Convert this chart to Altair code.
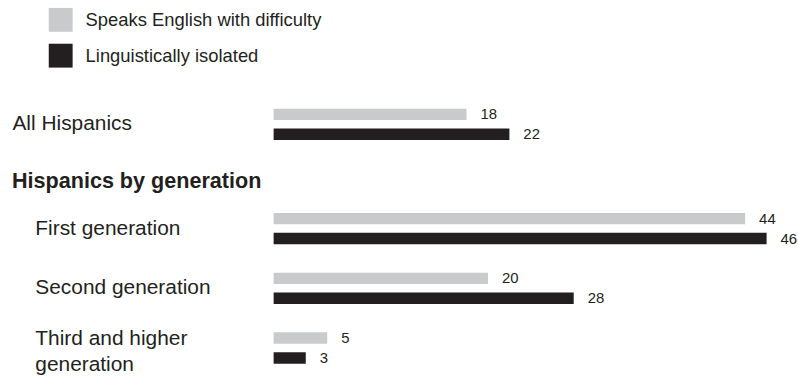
import altair as alt
import pandas as pd

# Series (legend order, top bar first within each group)
series = ["Speaks English with difficulty", "Linguistically isolated"]
series_colors = ["#c9cacc", "#231f20"]

# Overall row
overall_groups = ["All Hispanics"]
overall_difficulty = [18]
overall_isolated = [22]

# By-generation rows
section_title = "Hispanics by generation"
generations = ["First generation", "Second generation", "Third and higher generation"]
gen_difficulty = [44, 20, 5]
gen_isolated = [46, 28, 3]

FONT = "Liberation Sans"
INK = "#231f20"
PLOT_W = 517
WRAP_AT = 18  # labels longer than this break onto two lines


def long_table(groups, difficulty, isolated):
    rows = []
    for g, d, i in zip(groups, difficulty, isolated):
        rows.append({"group": g, "series": series[0], "value": d})
        rows.append({"group": g, "series": series[1], "value": i})
    return pd.DataFrame(rows)


def panel(df, groups, height, label_pad, y_scale, legend, wrap=False, title=None):
    axis_kw = dict(
        title=None, domain=False, ticks=False, labelAlign="left", labelPadding=label_pad,
        labelFont=FONT, labelFontSize=21, labelColor=INK, labelLimit=0, labelLineHeight=26,
    )
    if wrap:
        long_label = f"length(datum.label) > {WRAP_AT}"
        axis_kw["labelExpr"] = (
            f"{long_label} ? [slice(datum.label, 0, lastindexof(datum.label, ' ')), "
            "slice(datum.label, lastindexof(datum.label, ' ') + 1)] : datum.label"
        )
        # lift two-line labels so the pair sits centred on its group
        axis_kw["labelOffset"] = {"condition": {"test": long_label, "value": -9}, "value": 0}
    base = alt.Chart(df).encode(
        y=alt.Y("group:N", sort=groups, scale=y_scale, axis=alt.Axis(**axis_kw)),
        # the two bars of a group fill the group's band, with a gap between them
        yOffset=alt.YOffset("series:N", sort=series,
                            scale=alt.Scale(paddingInner=0.425, paddingOuter=0)),
        x=alt.X("value:Q", scale=alt.Scale(domain=[0, 48], nice=False), axis=None),
    )
    bars = base.mark_bar(cornerRadius=0).encode(
        color=alt.Color("series:N", scale=alt.Scale(domain=series, range=series_colors),
                        legend=legend)
    )
    labels = base.mark_text(align="left", baseline="middle", dx=14, font=FONT,
                            fontSize=15, color=INK).encode(text="value:Q")
    props = dict(width=PLOT_W, height=height)
    if title is not None:
        props["title"] = title
    return alt.layer(bars, labels).properties(**props)


legend = alt.Legend(
    orient="none", legendX=-226, legendY=-97, title=None, direction="vertical",
    symbolType="square", symbolSize=576, symbolStrokeWidth=0, symbolOpacity=1,
    labelFont=FONT, labelFontSize=18.5, labelColor=INK, labelOffset=13, labelLimit=0,
    rowPadding=12, padding=0,
)

top = panel(long_table(overall_groups, overall_difficulty, overall_isolated),
            overall_groups, 40, 263,
            alt.Scale(paddingInner=0, paddingOuter=0.135), legend)

bottom = panel(long_table(generations, gen_difficulty, gen_isolated),
               generations, 167, 240,
               alt.Scale(paddingInner=0.475, paddingOuter=0.129, align=0.52),
               None, wrap=True,
               title=alt.TitleParams(section_title, anchor="start", font=FONT, fontSize=21.7,
                                     fontWeight="bold", color=INK, offset=12, dx=-23))

chart = (
    alt.vconcat(top, bottom, spacing=27)
    .resolve_scale(color="independent", x="independent")
    .resolve_legend(color="independent")
    .properties(padding={"left": 12, "top": 7, "right": 0, "bottom": 0}, background="white")
    .configure_view(stroke=None)
)

chart.save("out.html", embed_options={"renderer": "svg", "actions": False})
